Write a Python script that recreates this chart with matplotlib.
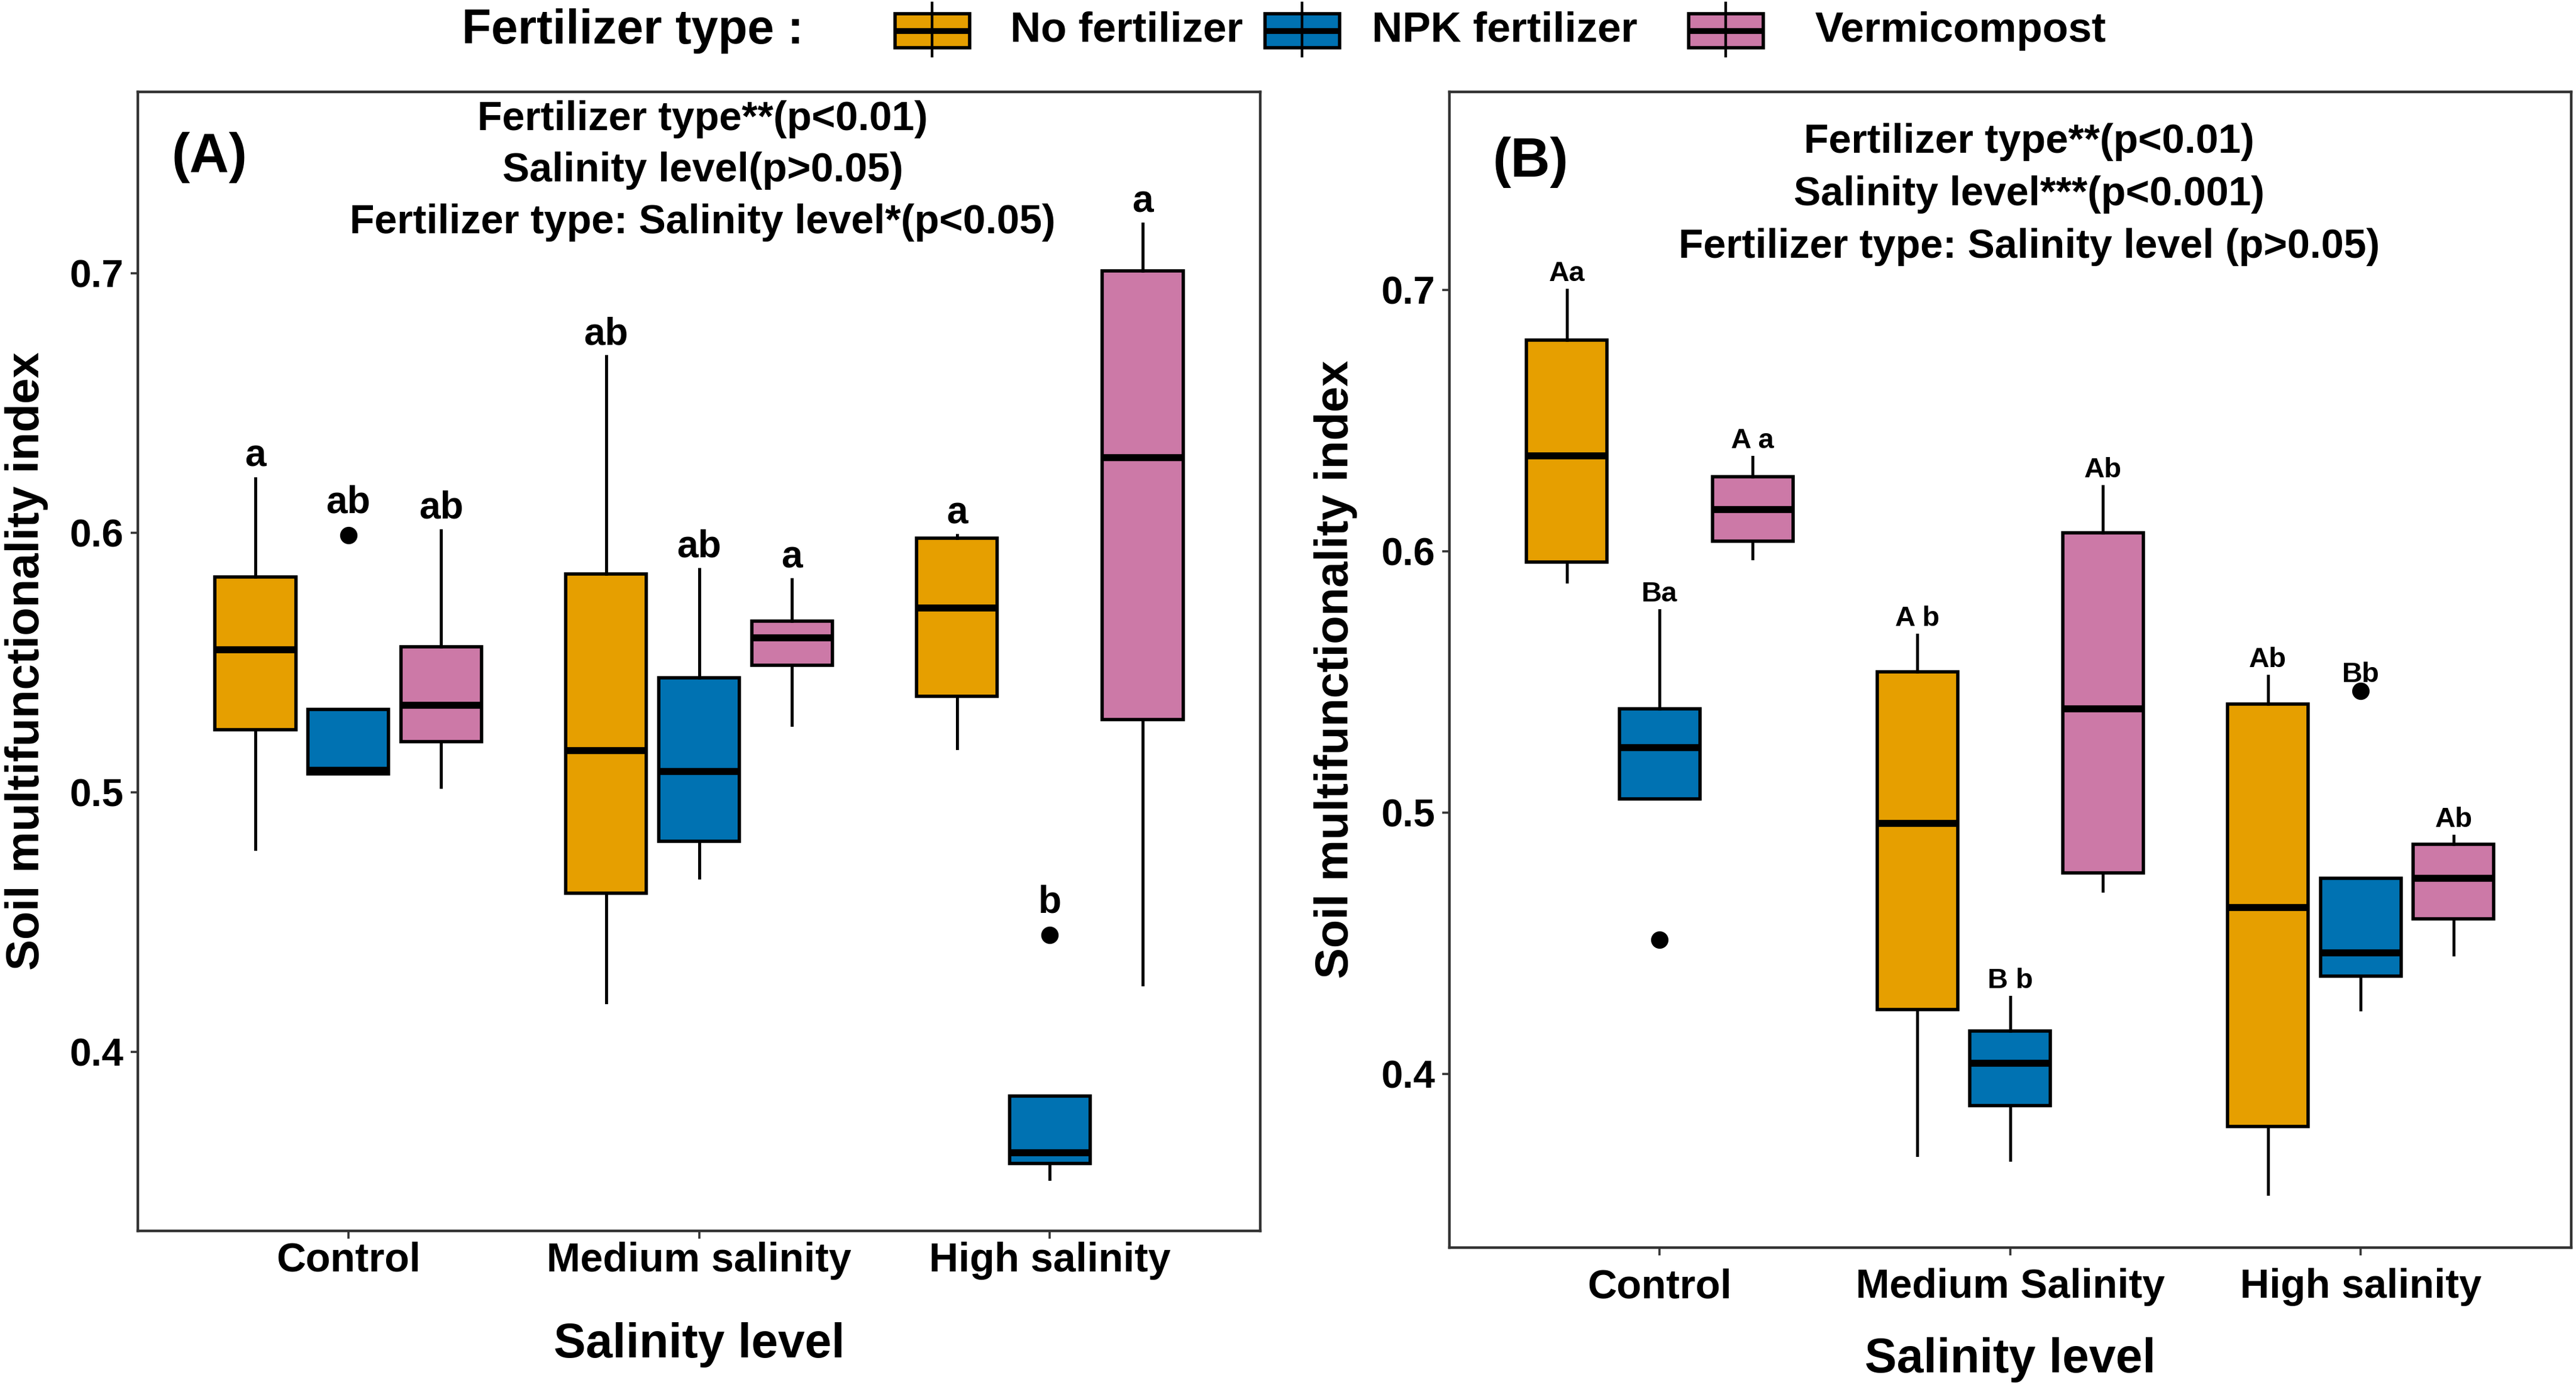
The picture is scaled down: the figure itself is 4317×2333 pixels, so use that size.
import matplotlib
matplotlib.use("Agg")
import matplotlib.pyplot as plt
from matplotlib.patches import Rectangle

plt.rcParams["font.family"] = ["Liberation Sans", "DejaVu Sans"]
plt.rcParams["font.weight"] = "bold"
plt.rcParams["axes.labelweight"] = "bold"

W, H, DPI = 4317, 2333, 200

FERTILIZERS = ["No fertilizer", "NPK fertilizer", "Vermicompost"]
COLORS = ["#E69F00", "#0072B2", "#CC79A7"]
GROUPS_A = ["Control", "Medium salinity", "High salinity"]
GROUPS_B = ["Control", "Medium Salinity", "High salinity"]

# panel A, rows = fertilizer, columns = salinity level
A_LOW = [[0.478, 0.419, 0.517], [0.507, 0.467, 0.351], [0.502, 0.526, 0.426]]
A_Q1 = [[0.524, 0.461, 0.537], [0.507, 0.481, 0.357], [0.5195, 0.549, 0.528]]
A_MED = [[0.555, 0.516, 0.571], [0.5085, 0.508, 0.361], [0.5335, 0.5595, 0.629]]
A_Q3 = [[0.583, 0.584, 0.598], [0.532, 0.544, 0.383], [0.556, 0.566, 0.701]]
A_HIGH = [[0.621, 0.668, 0.599], [0.532, 0.586, 0.383], [0.601, 0.582, 0.719]]
A_OUT = [[[], [], []], [[0.599], [], [0.445]], [[], [], []]]
A_LETTERS = [["a", "ab", "a"], ["ab", "ab", "b"], ["ab", "a", "a"]]
A_STATS = ["Fertilizer type**(p<0.01)", "Salinity level(p>0.05)",
           "Fertilizer type: Salinity level*(p<0.05)"]

# panel B
B_LOW = [[0.5885, 0.369, 0.354], [0.5053, 0.367, 0.4246], [0.5973, 0.470, 0.4456]]
B_Q1 = [[0.596, 0.4246, 0.380], [0.5053, 0.388, 0.4374], [0.6039, 0.477, 0.4593]]
B_MED = [[0.6366, 0.496, 0.4638], [0.525, 0.404, 0.4463], [0.6161, 0.5398, 0.4748]]
B_Q3 = [[0.681, 0.554, 0.5415], [0.5397, 0.4164, 0.475], [0.6285, 0.6071, 0.488]]
B_HIGH = [[0.700, 0.568, 0.5524], [0.5774, 0.4294, 0.475], [0.6362, 0.6249, 0.4911]]
B_OUT = [[[], [], []], [[0.4514], [], [0.5465]], [[], [], []]]
B_LETTERS = [["Aa", "A b", "Ab"], ["Ba", "B b", "Bb"], ["A a", "Ab", "Ab"]]
B_STATS = ["Fertilizer type**(p<0.01)", "Salinity level***(p<0.001)",
           "Fertilizer type: Salinity level (p>0.05)"]

DODGE = 0.265
BOX_W = 0.23
FRAME = "#333333"


def px_rect(left, right, top, bottom):
    return [left / W, 1 - bottom / H, (right - left) / W, (bottom - top) / H]


def draw_panel(ax, lows, q1s, meds, q3s, highs, outs, letters, letter_size,
               letter_gap, outlier_extra):
    stats, pos, cols = [], [], []
    for f in range(3):
        for g in range(3):
            stats.append(dict(whislo=lows[f][g], q1=q1s[f][g], med=meds[f][g],
                              q3=q3s[f][g], whishi=highs[f][g], fliers=outs[f][g]))
            pos.append(g + 1 + (f - 1) * DODGE)
            cols.append(COLORS[f])
    bp = ax.bxp(stats, positions=pos, widths=BOX_W, patch_artist=True, showcaps=False,
                manage_ticks=False,
                boxprops=dict(linewidth=2.0, edgecolor="black"),
                medianprops=dict(color="black", linewidth=4.2, solid_capstyle="butt"),
                whiskerprops=dict(linewidth=1.8, color="black"),
                flierprops=dict(marker="o", markerfacecolor="black",
                                markeredgecolor="black", markersize=9.5))
    for patch, c in zip(bp["boxes"], cols):
        patch.set_facecolor(c)
    for f in range(3):
        for g in range(3):
            top = max([highs[f][g]] + outs[f][g])
            gap = letter_gap + (outlier_extra if top > highs[f][g] else 0)
            ax.text(g + 1 + (f - 1) * DODGE, top + gap, letters[f][g],
                    ha="center", va="center", fontsize=letter_size)

    ax.set_xlim(0.4, 3.6)
    ax.set_yticks([0.4, 0.5, 0.6, 0.7])
    ax.set_yticklabels(["0.4", "0.5", "0.6", "0.7"])
    ax.tick_params(axis="both", length=4.5, width=1.3, color=FRAME,
                   labelsize=23.5, labelcolor="black")
    ax.tick_params(axis="y", pad=4)
    for s in ax.spines.values():
        s.set_color(FRAME)
        s.set_linewidth(1.6)


fig = plt.figure(figsize=(W / DPI, H / DPI), dpi=DPI)

# panel A
axA = fig.add_axes(px_rect(231, 2112, 153.6, 2062.7))
draw_panel(axA, A_LOW, A_Q1, A_MED, A_Q3, A_HIGH, A_OUT, A_LETTERS, 23, 0.0085, 0.004)
axA.set_ylim(0.331, 0.770)
axA.set_xticks([1, 2, 3])
axA.set_xticklabels(GROUPS_A)
axA.tick_params(axis="x", pad=2, labelsize=24.5)
axA.set_xlabel("Salinity level", fontsize=29)
axA.xaxis.set_label_coords(0.5, -0.1002)
axA.xaxis.label.set_va("center")
axA.set_ylabel("Soil multifunctionality index", fontsize=28)
axA.yaxis.set_label_coords(-0.0994, 0.5)
axA.yaxis.label.set_va("center")
for i, line in enumerate(A_STATS):
    axA.text(2.01, 0.7594 - 0.0199 * i, line, ha="center", va="center", fontsize=24.5)
axA.text(0.604, 0.7445, "(A)", ha="center", va="center", fontsize=33)

# panel B
axB = fig.add_axes(px_rect(2429, 4308.6, 153.6, 2090.7))
draw_panel(axB, B_LOW, B_Q1, B_MED, B_Q3, B_HIGH, B_OUT, B_LETTERS, 17, 0.0062, 0.0)
axB.set_ylim(0.3336, 0.776)
axB.set_xticks([1, 2, 3])
axB.set_xticklabels(GROUPS_B)
axB.tick_params(axis="x", pad=8, labelsize=24.5)
axB.set_xlabel("Salinity level", fontsize=29)
axB.xaxis.set_label_coords(0.5, -0.0974)
axB.xaxis.label.set_va("center")
axB.set_ylabel("Soil multifunctionality index", fontsize=28)
axB.yaxis.set_label_coords(-0.1016, 0.5)
axB.yaxis.label.set_va("center")
for i, line in enumerate(B_STATS):
    axB.text(2.054, 0.7568 - 0.0201 * i, line, ha="center", va="center", fontsize=24.5)
axB.text(0.631, 0.749, "(B)", ha="center", va="center", fontsize=33)

# legend along the top, laid out in pixel units
axL = fig.add_axes([0, 0, 1, 1], zorder=-1)
axL.set_xlim(0, W)
axL.set_ylim(H, 0)
axL.axis("off")
axL.text(774, 52, "Fertilizer type :", ha="left", va="center", fontsize=29)
key_left = [1500, 2120, 2830]
text_left = [1693, 2299, 3042]
for kx, tx, c, name in zip(key_left, text_left, COLORS, FERTILIZERS):
    axL.plot([kx + 62, kx + 62], [5, 94], color="black", lw=1.6)
    axL.add_patch(Rectangle((kx, 23), 125, 57, facecolor=c, edgecolor="black", lw=2.0))
    axL.plot([kx, kx + 125], [51.5, 51.5], color="black", lw=3.5, solid_capstyle="butt")
    axL.text(tx, 52, name, ha="left", va="center", fontsize=25.5)

fig.savefig("out.png", dpi=DPI)
